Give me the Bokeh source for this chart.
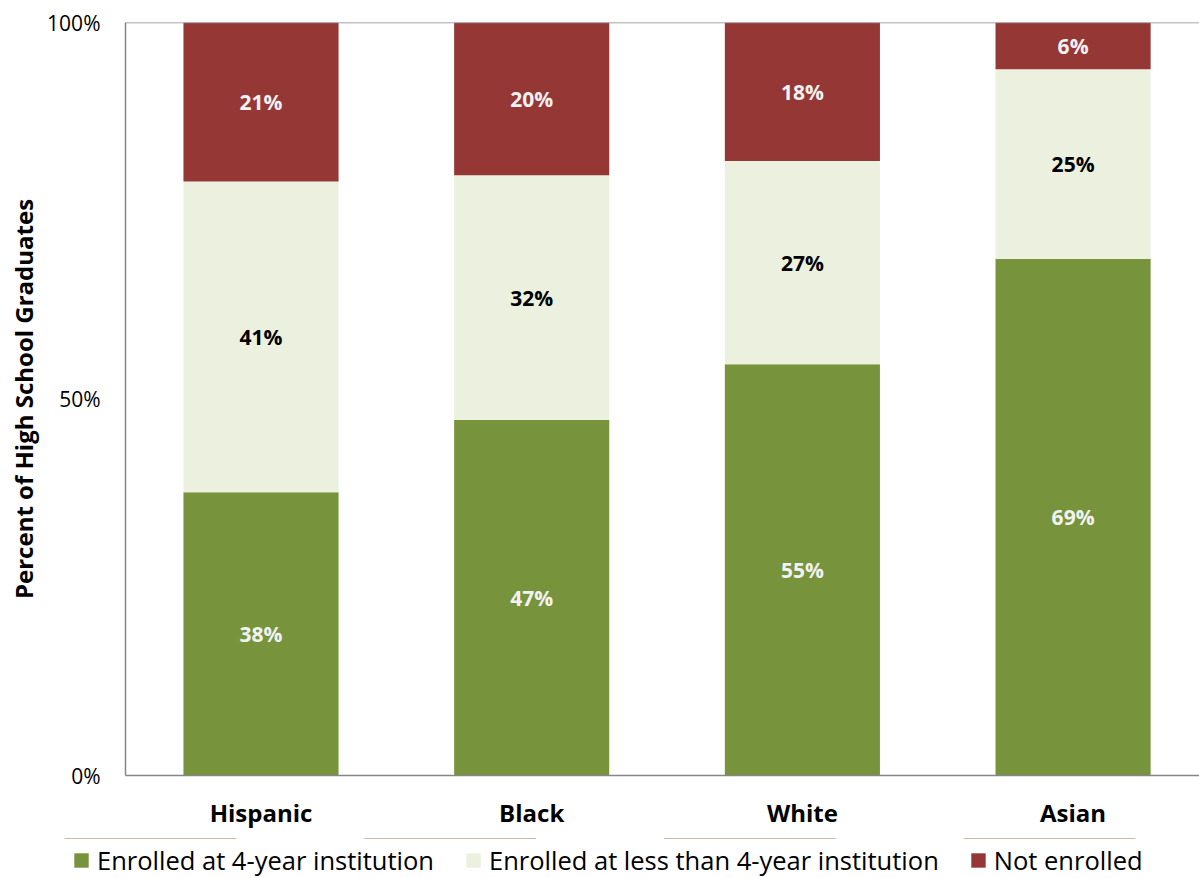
from bokeh.plotting import figure
from bokeh.layouts import column
from bokeh.models import (ColumnDataSource, Range1d, FixedTicker, PrintfTickFormatter,
                          Legend, LegendItem, Span)
from bokeh.core.properties import value
from bokeh.embed import file_html
from bokeh.resources import INLINE

categories = ["Hispanic", "Black", "White", "Asian"]
four_year = [37.6, 47.2, 54.6, 68.6]
less_four = [41.3, 32.5, 27.0, 25.2]
not_enrolled = [21.1, 20.3, 18.4, 6.2]
series_names = ["Enrolled at 4-year institution",
                "Enrolled at less than 4-year institution",
                "Not enrolled"]
colors = ["#77933C", "#EBF1DE", "#953735"]
label_colors = ["#F2F2F2", "#000000", "#F2F2F2"]
y_ticks = [0, 50, 100]

FONT = "Open Sans"

x = list(range(len(categories)))
src = ColumnDataSource(dict(x=x, a=four_year, b=less_four, c=not_enrolled))

p = figure(width=1199, height=838, output_backend="svg", toolbar_location=None,
           x_range=Range1d(-0.5006, 3.467), y_range=Range1d(0, 100),
           min_border_left=125, min_border_right=0, min_border_top=22,
           min_border_bottom=63)
p.frame_align = False
p.outline_line_color = None
p.background_fill_color = "white"
p.border_fill_color = "white"
p.xgrid.grid_line_color = None
p.ygrid.grid_line_color = None

rs = p.vbar_stack(["a", "b", "c"], x="x", width=0.573, source=src,
                  color=colors, line_color=None)

# segment labels
series = [four_year, less_four, not_enrolled]
base = [0.0] * len(categories)
for k, vals in enumerate(series):
    mids = [b + v / 2 for b, v in zip(base, vals)]
    txt = [f"{round(v)}%" for v in vals]
    s = ColumnDataSource(dict(x=x, y=mids, t=txt))
    p.text(x="x", y="y", text="t", source=s, text_align="center",
           text_baseline="middle", text_font=value(FONT),
           text_font_style="bold", text_font_size="21px",
           text_color=label_colors[k])
    base = [b + v for b, v in zip(base, vals)]

# top frame line
p.add_layout(Span(location=100, dimension="width", line_color="#868686", line_width=1.5))

# y axis
p.yaxis.ticker = FixedTicker(ticks=y_ticks)
p.yaxis.formatter = PrintfTickFormatter(format="%d%%")
p.yaxis.major_tick_line_color = None
p.yaxis.minor_tick_line_color = None
p.yaxis.axis_line_color = "#868686"
p.yaxis.axis_line_width = 1.5
p.yaxis.major_label_text_font = FONT
p.yaxis.major_label_text_font_size = "21px"
p.yaxis.major_label_text_color = "#000000"
p.yaxis.major_label_standoff = 19
p.yaxis.axis_label = "Percent of High School Graduates"
p.yaxis.axis_label_text_font = FONT
p.yaxis.axis_label_text_font_style = "bold"
p.yaxis.axis_label_text_font_size = "24px"
p.yaxis.axis_label_text_color = "#000000"
p.yaxis.axis_label_standoff = 4

# x axis
p.xaxis.ticker = FixedTicker(ticks=x)
p.xaxis.major_label_overrides = {i: c for i, c in zip(x, categories)}
p.xaxis.major_tick_line_color = None
p.xaxis.minor_tick_line_color = None
p.xaxis.axis_line_color = "#868686"
p.xaxis.axis_line_width = 1.5
p.xaxis.major_label_text_font = FONT
p.xaxis.major_label_text_font_style = "bold"
p.xaxis.major_label_text_font_size = "24px"
p.xaxis.major_label_text_color = "#000000"
p.xaxis.major_label_standoff = 14

# legend strip (its own small figure; its bars sit far above its visible y range)
lg = figure(width=1199, height=40, output_backend="svg", toolbar_location=None,
            x_range=Range1d(-0.5, 3.5), y_range=Range1d(-1000, -900),
            x_axis_location=None, y_axis_location=None,
            min_border_left=0, min_border_right=0, min_border_top=0, min_border_bottom=0)
lg.frame_align = False
lg.outline_line_color = None
lg.xgrid.grid_line_color = None
lg.ygrid.grid_line_color = None
lrs = lg.vbar_stack(["a", "b", "c"], x="x", width=0.573, source=src,
                    color=colors, line_color=None)
legend = Legend(items=[LegendItem(label=n, renderers=[r]) for n, r in zip(series_names, lrs)],
                orientation="horizontal", location=(72, 1),
                glyph_width=18, glyph_height=18, label_standoff=7, spacing=30,
                padding=0, margin=0, border_line_color=None,
                background_fill_alpha=0,
                label_text_font=FONT, label_text_font_size="25.5px",
                label_text_color="#000000")
lg.add_layout(legend, "center")

layout = column(p, lg, spacing=0)
open("out.html", "w").write(file_html(layout, INLINE))
